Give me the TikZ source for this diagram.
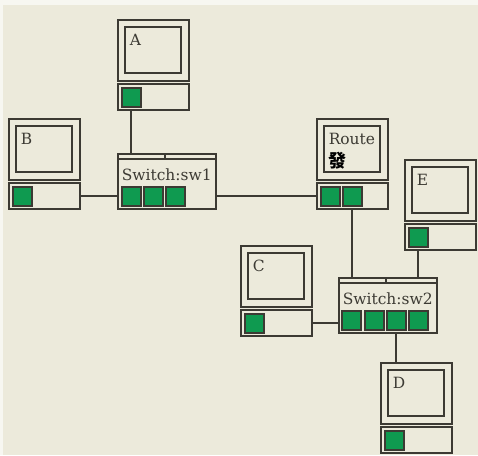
\documentclass[tikz,border=0pt]{standalone}
\usepackage{fontspec}
\setmainfont{DejaVu Serif}
\newfontfamily\cjkfont{Noto Sans CJK SC}
\definecolor{paper}{HTML}{ECEADB}
\definecolor{frame}{HTML}{3C3A33}
\definecolor{port}{HTML}{0F9A50}
\usetikzlibrary{calc}
\usetikzlibrary{positioning}

\begin{document}
\begin{tikzpicture}[
    x=0.75pt, y=-0.75pt,
    box/.style={draw=frame, line width=1.6pt, rectangle, inner sep=0pt, anchor=north west},
    screen/.style={box, minimum width=53pt, minimum height=45.5pt},
    glass/.style={box, minimum width=42pt, minimum height=34.5pt},
    base/.style={box, minimum width=53pt, minimum height=19.5pt},
    hub/.style={box, minimum width=73.5pt, minimum height=41.5pt},
    pad/.style={box, fill=port, minimum width=14pt, minimum height=14pt},
    lab/.style={font=\fontsize{11.6pt}{13pt}\selectfont, text=frame, inner sep=0pt, anchor=base west},
    link/.style={draw=frame, line width=1.6pt}
]
% Background
\fill[white!60!paper] (0,0) rectangle (478,455);
\fill[paper] (3,5) rectangle (478,455);

% Computers
\foreach \n/\x/\y/\t in {A/117/19/A, B/8/118/B, C/240/245/C, D/380/362/D, E/404/159/E, R/316/118/Route}{
  \node[screen] (\n) at (\x,\y) {};
  \node[glass] (\n g) at ($(\x,\y)+(7,7)$) {};
  \node[base] (\n b) at ($(\x,\y)+(0,64)$) {};
  \node[pad] (\n p) at ($(\x,\y)+(4,68)$) {};
  \node[lab] (\n t) at ($(\x,\y)+(12.5,26)$) {\t};
}
\node[pad] (Rq) at (342,186) {};
\node[font=\cjkfont\bfseries\fontsize{13.5pt}{14pt}\selectfont, inner sep=0pt] (Rx) at (337,161) {發};

% Switches
\foreach \n/\x/\y/\t in {sw1/117/153/Switch:sw1, sw2/338/277/Switch:sw2}{
  \node[hub] (\n) at (\x,\y) {};
  \node[lab] (\n t) at ($(\x,\y)+(4.5,27)$) {\t};
  \draw[link] ($(\x,\y)+(0,6)$) -- ++(98,0);
  \draw[link] ($(\x,\y)+(48,0)$) -- ++(0,6);
}
\foreach \i/\x in {1/121, 2/143, 3/165}{
  \node[pad] (sw1p\i) at (\x,186) {};
}
\foreach \i/\x in {1/341, 2/364, 3/386, 4/408}{
  \node[pad] (sw2p\i) at (\x,310) {};
}

% Links
\draw[link] (Ap |- Ab.south) -- (Ap |- sw1.north);
\draw[link] (Bb.east) -- (Bb.east -| sw1.west);
\draw[link] (Rb.west) -- (Rb.west -| sw1.east);
\draw[link] (Rq |- Rb.south) -- (Rq |- sw2.north);
\draw[link] (Ep |- Eb.south) -- (Ep |- sw2.north);
\draw[link] (Cb.east) -- (Cb.east -| sw2.west);
\draw[link] (sw2p3 |- sw2.south) -- (sw2p3 |- D.north);

\end{tikzpicture}
\end{document}
